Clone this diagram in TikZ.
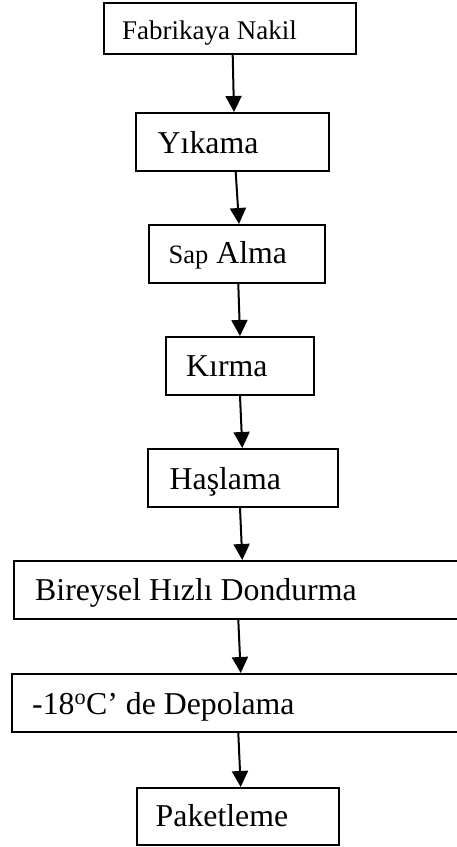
\documentclass[tikz,border=0pt]{standalone}
\usepackage{fontspec}
\setmainfont{Liberation Serif}
\usetikzlibrary{arrows.meta}
\begin{document}
\begin{tikzpicture}[x=1pt,y=-1pt,
  box/.style={draw=black,line width=2pt,rectangle,inner sep=0pt,fill=white},
  lbl/.style={anchor=base west,inner sep=0pt,font=\fontsize{31.8}{36}\selectfont},
  arr/.style={line width=2pt,-{Triangle[length=16pt,width=16pt]}}]
\useasboundingbox (0,0) rectangle (456,847);
% boxes
\node[box,minimum width=252pt,minimum height=51pt] (b1) at (230,28.5) {};
\node[box,minimum width=193pt,minimum height=58pt] (b2) at (232.5,142) {};
\node[box,minimum width=176pt,minimum height=58pt] (b3) at (237,254) {};
\node[box,minimum width=148pt,minimum height=58pt] (b4) at (240,366) {};
\node[box,minimum width=190pt,minimum height=58pt] (b5) at (243,478) {};
\node[box,minimum width=506pt,minimum height=58pt] (b6) at (267,590) {};
\node[box,minimum width=508pt,minimum height=58pt] (b7) at (266,703) {};
\node[box,minimum width=202pt,minimum height=57pt] (b8) at (238,816.5) {};
% texts
\node[lbl,font=\fontsize{27}{30}\selectfont] (t1) at (122,39) {Fabrikaya Nakil};
\node[lbl] (t2) at (157.5,153.3) {Yıkama};
\node[lbl] (t3) at (168.5,263.3) {{\fontsize{26.5}{30}\selectfont Sap} Alma};
\node[lbl] (t4) at (186,376.7) {Kırma};
\node[lbl] (t5) at (169.5,489) {Haşlama};
\node[lbl] (t6) at (35,600.7) {Bireysel Hızlı Dondurma};
\node[lbl] (t7) at (32,714) {-18\textsuperscript{o}C’ de Depolama};
\node[lbl] (t8) at (155.5,826.7) {Paketleme};
% arrows
\draw[arr] (b1.south -| 232.7,0) -- (b2.north -| 234,0);
\draw[arr] (b2.south -| 235.7,0) -- (b3.north -| 239,0);
\draw[arr] (b3.south -| 238.3,0) -- (b4.north -| 240,0);
\draw[arr] (b4.south -| 240,0) -- (b5.north -| 242.3,0);
\draw[arr] (b5.south -| 240,0) -- (b6.north -| 242.3,0);
\draw[arr] (b6.south -| 238.3,0) -- (b7.north -| 240.7,0);
\draw[arr] (b7.south -| 238.3,0) -- (b8.north -| 240.7,0);
\end{tikzpicture}
\end{document}
